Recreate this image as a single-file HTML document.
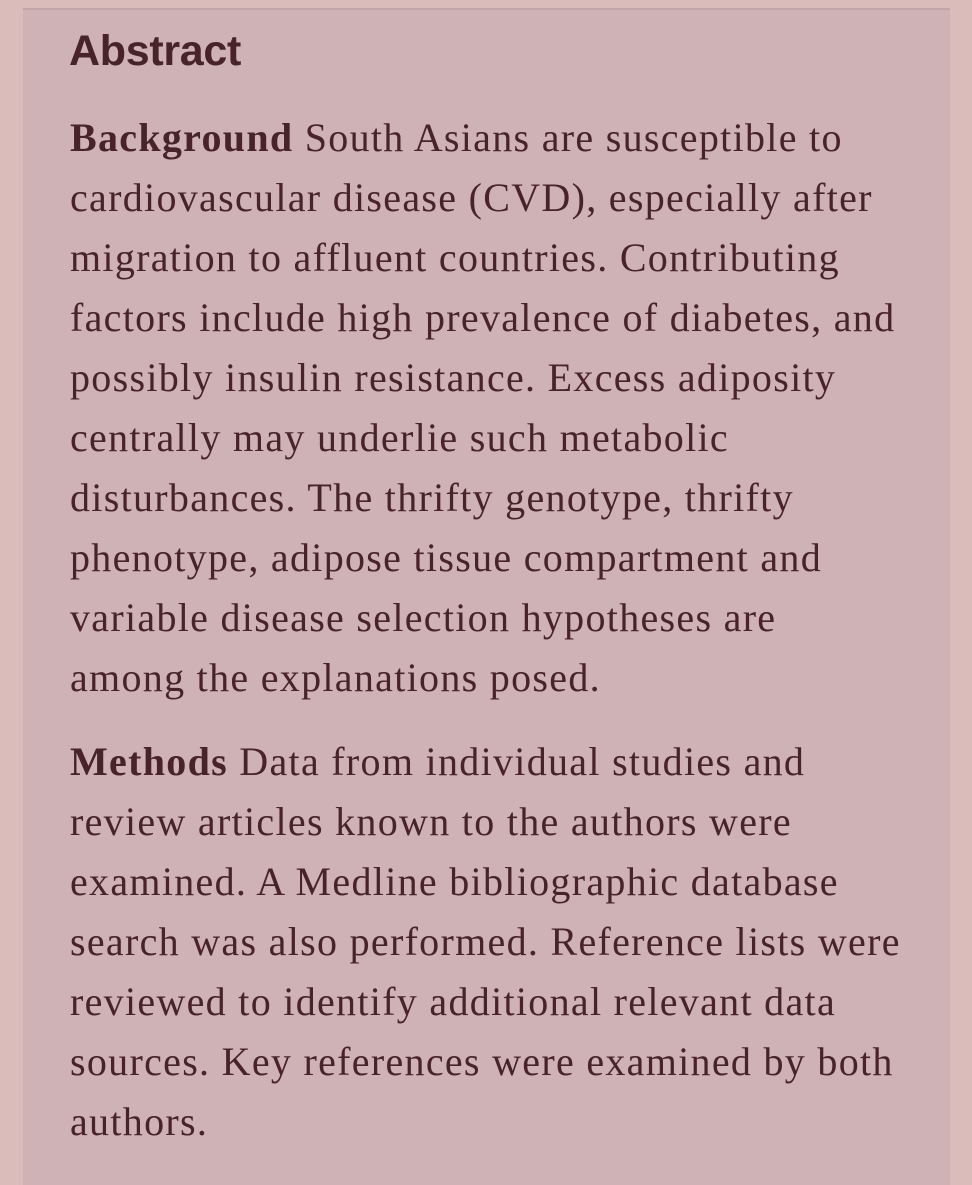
<!DOCTYPE html>
<html><head><meta charset="utf-8"><style>
html,body{margin:0;padding:0;}
body{width:972px;height:1183px;background:#dabcbb;position:relative;overflow:hidden;font-family:"Liberation Serif",serif;color:#48232a;}
#panel{position:absolute;left:23px;top:8px;width:927px;height:1175px;background:#cfb2b5;border-top:2px solid #c2a4a9;}
#title{position:absolute;left:69px;top:27px;font:bold 43px "Liberation Sans",sans-serif;letter-spacing:-0.3px;margin:0;}
.para{position:absolute;left:70px;font-size:40px;letter-spacing:1.3px;}
.para div{height:60px;line-height:60px;white-space:nowrap;}
b{font-weight:bold;}
</style></head><body>
<div id="panel"></div>
<h2 id="title">Abstract</h2>
<div class="para" style="top:108px">
<div><b>Background</b> South Asians are susceptible to</div>
<div>cardiovascular disease (CVD), especially after</div>
<div>migration to affluent countries. Contributing</div>
<div>factors include high prevalence of diabetes, and</div>
<div>possibly insulin resistance. Excess adiposity</div>
<div>centrally may underlie such metabolic</div>
<div>disturbances. The thrifty genotype, thrifty</div>
<div>phenotype, adipose tissue compartment and</div>
<div>variable disease selection hypotheses are</div>
<div>among the explanations posed.</div>
</div>
<div class="para" style="top:732px">
<div><b>Methods</b> Data from individual studies and</div>
<div>review articles known to the authors were</div>
<div>examined. A Medline bibliographic database</div>
<div>search was also performed. Reference lists were</div>
<div>reviewed to identify additional relevant data</div>
<div>sources. Key references were examined by both</div>
<div>authors.</div>
</div>
</body></html>
